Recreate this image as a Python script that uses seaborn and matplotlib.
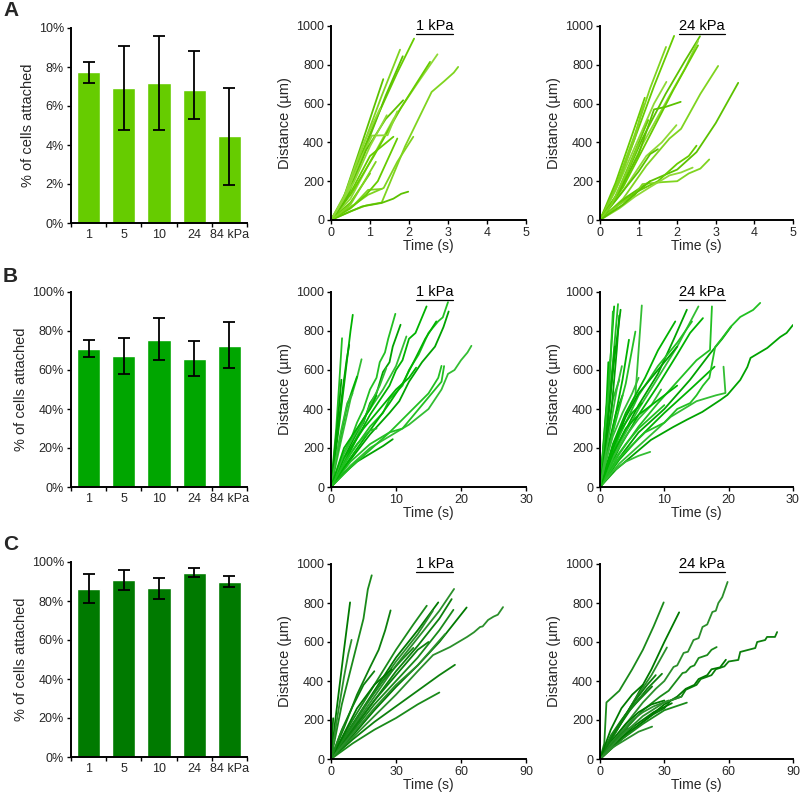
import numpy as np
import pandas as pd
import matplotlib
matplotlib.use("Agg")
import matplotlib.pyplot as plt
import seaborn as sns
from matplotlib.lines import Line2D
from matplotlib.ticker import FuncFormatter, FixedLocator

# ---------------- data ----------------
stiffness = ["1", "5", "10", "24", "84 kPa"]

A_attached = [7.72, 6.91, 7.17, 6.83, 4.46]
A_err_low = [7.20, 4.77, 4.77, 5.32, 1.97]
A_err_high = [8.25, 9.06, 9.57, 8.82, 6.91]

B_attached = [70.9, 67.2, 75.6, 65.8, 72.5]
B_err_low = [66.5, 58.1, 65.3, 56.8, 60.9]
B_err_high = [75.2, 76.4, 86.5, 74.7, 84.6]

C_attached = [86.2, 90.8, 86.5, 94.5, 89.9]
C_err_low = [79.0, 85.6, 81.2, 92.1, 87.0]
C_err_high = [93.8, 95.9, 92.0, 96.9, 93.0]

# trajectories: lists of (time s, distance um)
A_1kPa = [
    [(0, 0), (0.3, 90), (0.7, 300), (1.2, 540), (1.7, 760), (2.13, 935)],
    [(0, 0), (0.4, 150), (0.8, 370), (1.3, 640), (1.77, 878)],
    [(0, 0), (0.4, 120), (0.9, 380), (1.4, 640), (1.84, 844)],
    [(0, 0), (0.5, 110), (1.0, 300), (1.6, 520), (2.2, 700), (2.73, 854)],
    [(0, 0), (0.5, 130), (1.1, 330), (1.8, 580), (2.54, 815)],
    [(0, 0), (0.5, 45), (0.9, 75), (1.3, 90), (1.9, 380), (2.58, 660), (2.9, 715), (3.15, 760), (3.26, 789)],
    [(0, 0), (0.3, 100), (0.8, 400), (1.34, 726)],
    [(0, 0), (0.4, 140), (0.8, 330), (1.05, 435), (1.45, 437), (1.7, 560)],
    [(0, 0), (0.5, 140), (1.0, 330), (1.6, 429)],
    [(0, 0), (0.6, 80), (0.95, 130), (1.35, 165), (1.7, 300), (2.11, 429)],
    [(0, 0), (0.4, 110), (0.9, 360), (1.4, 520), (1.85, 617)],
    [(0, 0), (0.3, 100), (0.8, 380), (1.26, 575)],
    [(0, 0), (0.5, 90), (1.0, 240)],
    [(0, 0), (0.6, 80), (0.95, 155), (1.3, 160)],
    [(0, 0), (0.4, 35), (0.8, 70), (1.3, 88), (1.6, 110), (1.8, 135), (1.98, 146)],
    [(0, 0), (0.6, 200), (1.0, 380), (1.43, 540)],
    [(0, 0), (0.5, 60), (0.9, 130), (1.2, 200), (1.7, 420)],
    [(0, 0), (0.2, 30), (0.5, 80), (0.8, 180), (1.15, 300)],
]
A_24kPa = [
    [(0, 0), (0.4, 160), (0.9, 420), (1.4, 690), (1.92, 949)],
    [(0, 0), (0.4, 170), (0.9, 440), (1.3, 680), (1.71, 892)],
    [(0, 0), (0.5, 150), (1.1, 420), (1.7, 650), (2.2, 820), (2.59, 947)],
    [(0, 0), (0.5, 140), (1.1, 390), (1.8, 640), (2.2, 780), (2.54, 923)],
    [(0, 0), (0.6, 170), (1.2, 400), (1.9, 670), (2.54, 900)],
    [(0, 0), (0.6, 110), (1.2, 280), (1.8, 420), (2.1, 470), (2.6, 650), (3.06, 794)],
    [(0, 0), (0.7, 120), (1.3, 200), (2.0, 260), (2.5, 350), (3.0, 500), (3.58, 707)],
    [(0, 0), (0.4, 150), (1.0, 420), (1.4, 600), (1.72, 712)],
    [(0, 0), (0.4, 190), (0.8, 420), (1.16, 630)],
    [(0, 0), (0.5, 200), (0.9, 420), (1.12, 597)],
    [(0, 0), (0.5, 150), (1.0, 340), (1.4, 570), (1.7, 583), (2.09, 609)],
    [(0, 0), (0.6, 150), (1.2, 330), (1.6, 400), (1.98, 489)],
    [(0, 0), (0.6, 100), (1.0, 150), (1.5, 200), (2.0, 290), (2.3, 330), (2.5, 383)],
    [(0, 0), (0.5, 80), (0.9, 130), (1.1, 185), (1.6, 195), (2.0, 200), (2.3, 240), (2.6, 265), (2.83, 312)],
    [(0, 0), (0.6, 150), (1.0, 250), (1.3, 340), (1.5, 365)],
    [(0, 0), (0.5, 60), (0.9, 120), (1.3, 170), (1.8, 230), (2.1, 245), (2.4, 270)],
    [(0, 0), (0.4, 120), (0.9, 350), (1.25, 515)],
    [(0, 0), (0.3, 80), (0.7, 250), (1.0, 390)],
    [(0, 0), (0.6, 80), (1.0, 150), (1.3, 200)],
]
B_1kPa = [
    [(0, 0), (1, 250), (2, 520), (2.6, 690), (3.0, 800), (3.35, 883)],
    [(0, 0), (0.8, 300), (1.3, 550), (1.7, 763)],
    [(0, 0), (1, 280), (1.8, 500), (2.4, 650), (2.8, 729)],
    [(0, 0), (1.5, 230), (3, 450), (4, 560), (4.7, 655)],
    [(0, 0), (1.2, 220), (2.5, 420), (3.3, 500), (4.0, 566)],
    [(0, 0), (2, 180), (3, 240), (4, 330), (5, 400), (6, 500), (7, 560), (7.5, 640), (8.3, 690), (8.8, 760), (9.9, 888)],
    [(0, 0), (2, 150), (4, 280), (5, 330), (6, 430), (7, 480), (8, 590), (9, 640), (9.5, 720), (10.7, 832)],
    [(0, 0), (2, 130), (4, 260), (6, 420), (7.5, 520), (8.5, 609)],
    [(0, 0), (2, 120), (4, 250), (6, 370), (8, 470), (9, 520), (10, 600), (11, 650), (12, 760), (13, 790), (14.7, 926)],
    [(0, 0), (3, 170), (6, 310), (8, 380), (9, 450), (11, 520), (12, 600), (13.5, 680), (15, 790), (16.5, 850), (17.2, 870), (18.0, 948)],
    [(0, 0), (3, 140), (6, 270), (9, 380), (10.5, 440), (12, 540), (14, 640), (16, 720), (17.3, 820), (18.1, 900)],
    [(0, 0), (3, 110), (6, 200), (9, 260), (12, 320), (15, 400), (17, 500), (18, 580), (19, 600), (20, 650), (21, 690), (21.6, 724)],
    [(0, 0), (2, 150), (5, 300), (8, 420), (10, 500), (12, 560), (13.1, 612)],
    [(0, 0), (3, 130), (6, 220), (9, 280), (12, 380), (15, 480), (16.5, 560), (17, 621)],
    [(0, 0), (2, 70), (4, 130), (6, 170), (8, 210), (9.5, 245)],
    [(0, 0), (2, 170), (5, 350), (8, 500), (10, 620), (11.6, 772)],
    [(0, 0), (3, 150), (6, 290), (9, 430), (11, 530), (13, 660), (14.5, 760), (16.2, 849)],
    [(0, 0), (3, 100), (6, 190), (9, 280), (11, 300), (14, 420), (17, 540), (17.4, 620)],
    [(0, 0), (0.6, 200), (1.2, 400), (1.6, 550)],
    [(0, 0), (1.5, 280), (2.5, 430), (3.3, 480)],
    [(0, 0), (2, 200), (4, 300), (6, 400), (7, 470)],
    [(0, 0), (2, 120), (4, 220), (6, 290), (7, 300)],
]
B_24kPa = [
    [(0, 0), (0.8, 300), (1.5, 600), (2.2, 926)],
    [(0, 0), (1, 320), (2, 640), (2.8, 938)],
    [(0, 0), (1, 300), (2.2, 650), (3.2, 909)],
    [(0, 0), (0.6, 250), (1.2, 480), (1.6, 652)],
    [(0, 0), (0.5, 200), (1.0, 420), (1.3, 640)],
    [(0, 0), (1, 250), (2, 450), (3, 550)],
    [(0, 0), (1.2, 200), (2.5, 380), (3.5, 470)],
    [(0, 0), (2, 200), (4, 370), (5.5, 470), (6.0, 700), (6.5, 931)],
    [(0, 0), (2, 300), (3.5, 550), (4.5, 755)],
    [(0, 0), (2, 280), (4, 530), (5.5, 797)],
    [(0, 0), (3, 230), (6, 420), (9, 580), (11.5, 760), (13.5, 909)],
    [(0, 0), (3, 220), (6, 400), (9, 560), (12, 720), (15.3, 926)],
    [(0, 0), (3, 200), (6, 370), (9, 520), (12, 680), (14, 790), (16.0, 866)],
    [(0, 0), (3, 170), (6, 310), (9, 430), (12, 540), (15, 650), (17.1, 703), (17.4, 926)],
    [(0, 0), (3, 150), (6, 280), (10, 400), (14, 550), (17, 680), (19, 760), (20.4, 823)],
    [(0, 0), (3, 120), (7, 240), (11, 360), (15, 440), (18, 470), (19.5, 482), (19.2, 617)],
    [(0, 0), (3, 140), (6, 250), (10, 380), (14, 500), (17.8, 617)],
    [(0, 0), (3, 150), (7, 280), (10, 330), (12, 400), (14, 430), (15, 470), (16, 520), (17, 560), (17.9, 718),
     (19, 764), (20.3, 821), (21.8, 872), (23.8, 908), (24.9, 944)],
    [(0, 0), (2.5, 90), (5, 160), (7.9, 241), (11.4, 308), (13.5, 345), (15.9, 385), (18.7, 446), (19.8, 472),
     (21.8, 549), (22.9, 615), (23.4, 662), (26, 713), (28, 769), (29, 790), (30, 831)],
    [(0, 0), (2, 80), (4, 130), (6, 160), (7.8, 180)],
    [(0, 0), (2, 220), (4, 380), (7, 560), (9, 700), (11.7, 849)],
    [(0, 0), (3, 260), (6, 470), (9, 620), (12, 740), (14.3, 849)],
    [(0, 0), (2, 200), (4, 360), (6, 480), (8, 560), (10, 640), (12, 720)],
    [(0, 0), (2, 150), (4, 260), (6, 350), (8, 420), (9.5, 500)],
    [(0, 0), (1.5, 150), (3, 280), (5, 380), (6.5, 430)],
    [(0, 0), (2, 130), (4, 220), (6, 300), (8, 360), (10, 420)],
    [(0, 0), (1.8, 400), (2.6, 700), (3.0, 880)],
    [(0, 0), (1, 150), (2, 260), (3.5, 380), (5, 480), (6, 560)],
    [(0, 0), (2, 170), (4, 300), (6, 370), (8, 420), (10, 470), (12, 520)],
    [(0, 0), (0.7, 250), (1.5, 560), (2.0, 900)],
    [(0, 0), (0.8, 200), (1.6, 450), (2.3, 720)],
    [(0, 0), (1.3, 250), (2.6, 500), (3.4, 620)],
]
C_1kPa = [
    [(0, 0), (5, 280), (10, 500), (15, 720), (17, 870), (18.8, 942)],
    [(0, 0), (2, 200), (4, 380), (6, 560), (8.8, 803)],
    [(0, 0), (3, 220), (6, 420), (8, 540), (9.5, 611)],
    [(0, 0), (6, 160), (12, 330), (18, 470), (22, 560), (25, 660), (27.5, 762)],
    [(0, 0), (10, 200), (20, 380), (30, 560), (38, 690), (44.2, 786)],
    [(0, 0), (10, 180), (20, 350), (30, 520), (40, 660), (49.5, 803)],
    [(0, 0), (10, 160), (20, 320), (30, 480), (40, 620), (50, 760), (56.8, 872)],
    [(0, 0), (10, 150), (20, 300), (30, 450), (40, 580), (50, 720), (55.7, 820)],
    [(0, 0), (10, 140), (20, 280), (30, 400), (40, 520), (50, 660), (56.5, 765)],
    [(0, 0), (10, 120), (20, 250), (30, 370), (40, 480), (50, 600), (62.6, 777)],
    [(0, 0), (10, 110), (20, 220), (30, 330), (40, 450), (47.1, 533), (54.9, 574), (62.8, 626), (66, 650),
     (68.8, 677), (70, 680), (72.5, 713), (75, 730), (77, 740), (79.4, 779)],
    [(0, 0), (10, 100), (20, 190), (30, 270), (40, 350), (50, 430), (57.2, 483)],
    [(0, 0), (10, 80), (20, 150), (30, 210), (40, 280), (50, 341)],
    [(0, 0), (0.5, 100), (1, 209)],
    [(0, 0), (10, 170), (20, 340), (30, 500), (40, 640), (47, 760)],
    [(0, 0), (10, 150), (20, 300), (30, 430), (40, 560), (45, 600)],
    [(0, 0), (8, 140), (16, 280), (24, 400), (32, 500), (38, 570)],
    [(0, 0), (6, 130), (12, 260), (20, 380), (28, 460)],
    [(0, 0), (10, 130), (20, 260), (30, 380), (40, 480), (52.6, 640)],
    [(0, 0), (5, 150), (10, 270), (15, 380), (20, 450)],
    [(0, 0), (2, 60), (4, 120), (6, 170)],
]
C_24kPa = [
    [(0, 0), (2, 80), (3, 290), (9, 350), (15, 460), (20, 560), (25, 680), (29.7, 803)],
    [(0, 0), (8, 150), (16, 300), (24, 460), (30, 600), (36.9, 752)],
    [(0, 0), (10, 150), (20, 290), (26, 360), (30, 400), (34.3, 472), (36, 480), (39, 544), (41, 550), (43.6, 610),
     (46, 620), (47.8, 677), (50, 690), (52.4, 754), (54, 760), (55.2, 800), (57, 830), (59.5, 908)],
    [(0, 0), (10, 110), (20, 190), (25, 230), (30, 260), (33, 300), (38, 320), (40, 355), (45, 380), (47, 410),
     (52, 430), (54, 460), (58, 475), (60, 500), (64.5, 508), (65.4, 549), (72.4, 569), (73.3, 600), (77, 610),
     (77.9, 626), (81.6, 626), (82.6, 651)],
    [(0, 0), (10, 130), (20, 250), (28, 320), (32, 350), (38.5, 441), (40, 445), (42.2, 472), (44, 480),
     (46, 518), (50, 533), (52, 560), (54.4, 574)],
    [(0, 0), (10, 100), (20, 190), (30, 280), (36, 320), (40, 360), (44, 380), (46, 410), (50, 430), (52, 460),
     (56, 470), (58.7, 509)],
    [(0, 0), (8, 150), (16, 300), (24, 430), (31.2, 572)],
    [(0, 0), (6, 120), (14, 250), (22, 360), (28.9, 437)],
    [(0, 0), (10, 100), (20, 180), (30, 250), (40.5, 289)],
    [(0, 0), (8, 90), (16, 170), (25, 240), (33.5, 286)],
    [(0, 0), (6, 60), (12, 100), (18, 140), (24.3, 166)],
    [(0, 0), (6, 130), (12, 230), (18, 300), (24.3, 372)],
    [(0, 0), (5, 120), (10, 200), (15, 270), (20, 330)],
    [(0, 0), (6, 100), (12, 180), (18, 240), (24, 280), (30, 300)],
    [(0, 0), (5, 80), (10, 140), (15, 200), (20, 240), (25, 270), (32, 300)],
    [(0, 0), (8, 160), (15, 280), (22, 380), (26, 430)],
    [(0, 0), (4, 60), (8, 110), (12, 150), (16, 170)],
    [(0, 0), (5, 150), (10, 260), (15, 330), (20, 380)],
    [(0, 0), (10, 120), (20, 220), (30, 290), (38, 320)],
]

# ---------------- style ----------------
sns.set_theme(style="white")
plt.rcParams["font.family"] = ["Liberation Sans", "DejaVu Sans"]
plt.rcParams["axes.linewidth"] = 1.4

bar_colors = ["#66CC00", "#00A600", "#007A00"]
line_shades = [
    ["#66CC00", "#7FD41F", "#5CC200", "#8FD936"],
    ["#00B300", "#22C022", "#00A300", "#33BE33"],
    ["#1A8A1A", "#007A00", "#2B8F2B", "#0D800D"],
]
TICK = 9
LABEL = 10.5

fig = plt.figure(figsize=(8.0, 7.97), dpi=100)
W, H = 800.0, 797.0


def add_axes(left, top, right, bottom):
    return fig.add_axes([left / W, 1 - bottom / H, (right - left) / W, (bottom - top) / H])


def style_axes(ax):
    sns.despine(ax=ax)
    for s in ("left", "bottom"):
        ax.spines[s].set_color("black")
        ax.spines[s].set_linewidth(1.4)
    ax.tick_params(axis="both", which="major", direction="out", length=3, width=1,
                   color="black", labelsize=TICK, pad=2, bottom=True, left=True)


def bar_panel(ax, vals, low, high, ymax, ystep, color):
    df = pd.DataFrame({"stiffness": stiffness, "attached": vals})
    sns.barplot(data=df, x="stiffness", y="attached", color=color, saturation=1,
                width=0.66, errorbar=None, ax=ax)
    x = np.arange(len(vals))
    v = np.array(vals)
    ax.errorbar(x, v, yerr=[v - np.array(low), np.array(high) - v], fmt="none",
                ecolor="black", elinewidth=1.3, capsize=4, capthick=1.3)
    ax.set_xlim(-0.5, len(vals) - 0.5)
    ax.set_ylim(0, ymax)
    ax.set_yticks(np.arange(0, ymax + 0.001, ystep))
    ax.yaxis.set_major_formatter(FuncFormatter(lambda t, p: f"{t:.0f}%"))
    ax.set_xlabel("")
    ax.set_ylabel("% of cells attached", fontsize=LABEL, labelpad=3)
    style_axes(ax)
    # ticks at category boundaries, labels under the bars
    ax.xaxis.set_major_locator(FixedLocator(np.arange(-0.5, len(vals), 1.0)))
    ax.xaxis.set_major_formatter(FuncFormatter(lambda t, p: ""))
    ax.xaxis.set_minor_locator(FixedLocator(x))
    ax.set_xticklabels(stiffness, minor=True)
    ax.tick_params(axis="x", which="minor", length=0, labelsize=TICK, pad=4, bottom=True)


def line_panel(ax, tracks, xmax, xstep, shades, title):
    rows = []
    for i, tr in enumerate(tracks):
        for j, (t, d) in enumerate(tr):
            rows.append((i, j, t, d))
    df = pd.DataFrame(rows, columns=["track", "step", "t", "d"])
    pal = [shades[i % len(shades)] for i in range(len(tracks))]
    sns.lineplot(data=df, x="t", y="d", hue="track", units="track", estimator=None,
                 sort=False, palette=pal, legend=False, lw=1.3, ax=ax)
    ax.set_xlim(0, xmax)
    ax.set_ylim(0, 1000)
    ax.set_xticks(np.arange(0, xmax + 0.001, xstep))
    ax.set_yticks(np.arange(0, 1001, 200))
    ax.set_xlabel("Time (s)", fontsize=10, labelpad=0)
    ax.set_ylabel("Distance (µm)", fontsize=LABEL, labelpad=3)
    style_axes(ax)
    txt = ax.text(0.53, 1.0, title, transform=ax.transAxes, ha="center", va="center",
                  fontsize=10.5, color="black")
    return txt


rows_px = [(28, 223, 26, 220), (292, 487, 292, 487), (562, 757, 564, 759)]
bar_data = [(A_attached, A_err_low, A_err_high, 10, 2),
            (B_attached, B_err_low, B_err_high, 100, 20),
            (C_attached, C_err_low, C_err_high, 100, 20)]
line_data = [(A_1kPa, A_24kPa, 5, 1), (B_1kPa, B_24kPa, 30, 10), (C_1kPa, C_24kPa, 90, 30)]
letters = ["A", "B", "C"]
letter_y = [1, 267, 535]

titles = []
for r in range(3):
    bt, bb, lt, lb = rows_px[r]
    axb = add_axes(71, bt, 247, bb)
    vals, lo, hi, ymax, ystep = bar_data[r]
    bar_panel(axb, vals, lo, hi, ymax, ystep, bar_colors[r])
    t1, t2, xmax, xstep = line_data[r]
    axm = add_axes(331, lt, 526, lb)
    titles.append(line_panel(axm, t1, xmax, xstep, line_shades[r], "1 kPa"))
    axr = add_axes(600, lt, 793, lb)
    titles.append(line_panel(axr, t2, xmax, xstep, line_shades[r], "24 kPa"))
    fig.text(3 / W, 1 - letter_y[r] / H, letters[r], fontsize=15, fontweight="bold",
             va="top", ha="left")

# underline the panel titles
fig.canvas.draw()
renderer = fig.canvas.get_renderer()
inv = fig.transFigure.inverted()
for txt in titles:
    bb = txt.get_window_extent(renderer)
    (x0, y0), (x1, y1) = inv.transform([(bb.x0, bb.y0), (bb.x1, bb.y1)])
    fig.add_artist(Line2D([x0, x1], [y0 - 0.001, y0 - 0.001], transform=fig.transFigure,
                          color="black", lw=0.9))

fig.savefig("out.png", dpi=100)
